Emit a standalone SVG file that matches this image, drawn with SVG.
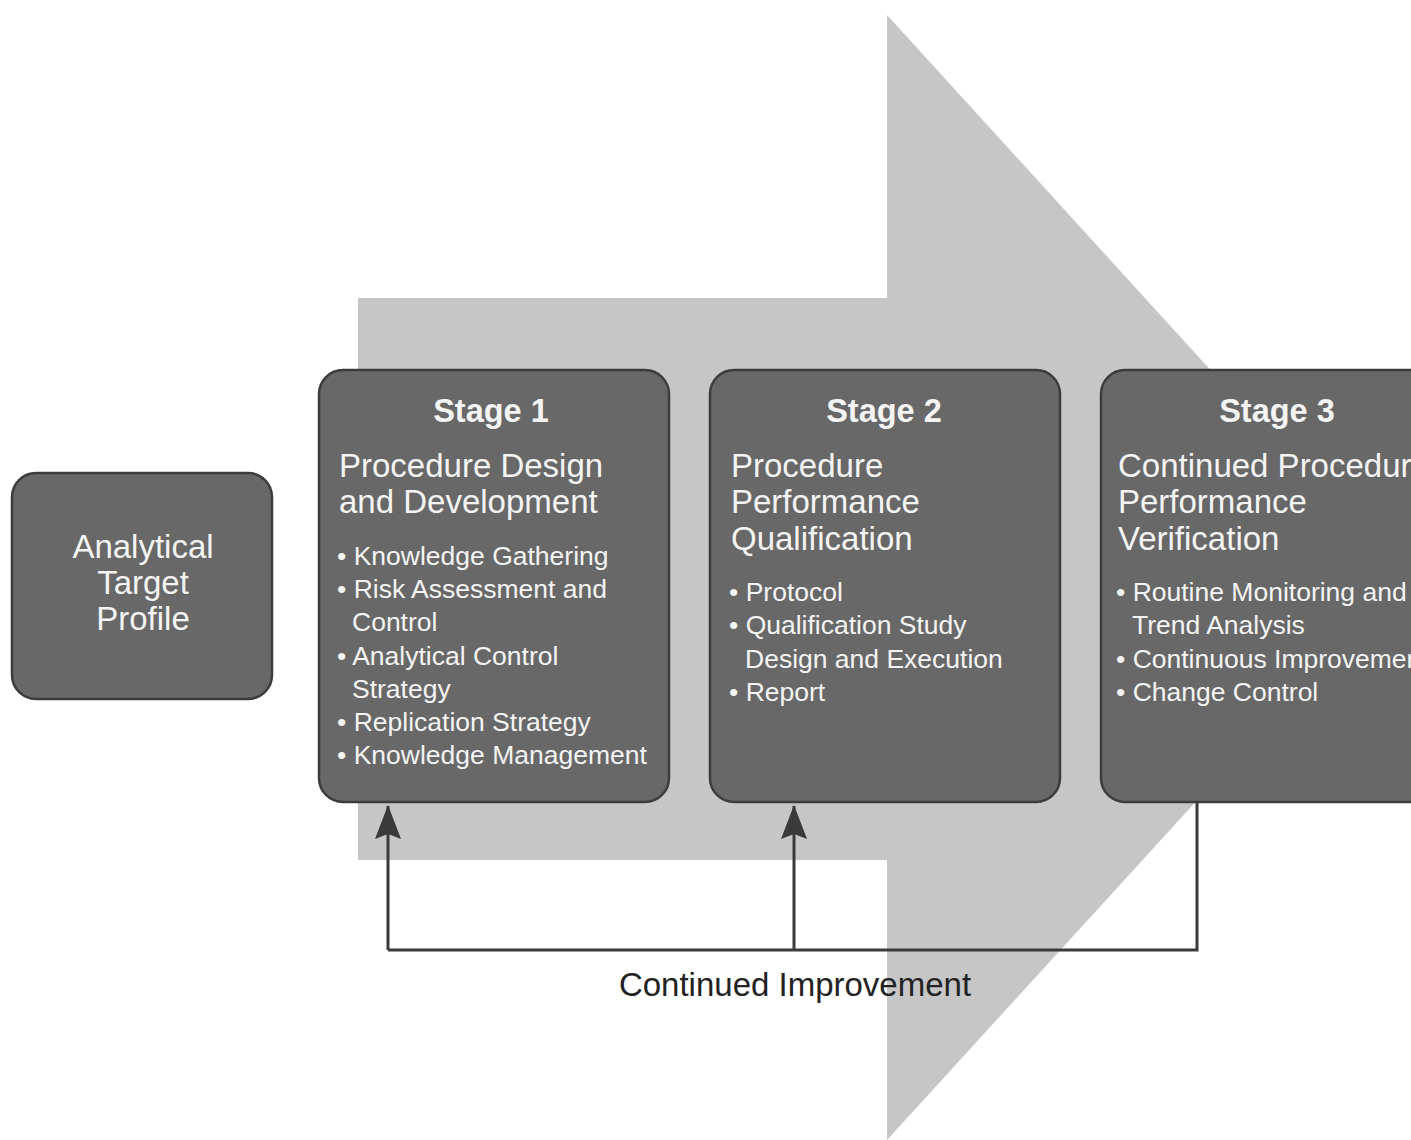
<svg xmlns="http://www.w3.org/2000/svg" width="1411" height="1140" viewBox="0 0 1411 1140">
<style>
.box{fill:#686868;stroke:#3c3c3c;stroke-width:2.5}
.t{font-family:"Liberation Sans",Arial,sans-serif;fill:#f4f4f4}
.stage{font-size:32.5px;font-weight:bold;text-anchor:middle}
.title{font-size:33px}
.bul{font-size:26.5px}
.atp{font-size:33px;text-anchor:middle}
.conn{fill:none;stroke:#3a3a3a;stroke-width:3}
.lbl{font-family:"Liberation Sans",Arial,sans-serif;font-size:33px;fill:#222;text-anchor:middle}
</style>
<defs>
<marker id="ah" viewBox="0 0 34 26" refX="33" refY="13" markerWidth="34" markerHeight="26" markerUnits="userSpaceOnUse" orient="auto">
<path d="M34,13 L0,0 L5,13 L0,26 Z" fill="#3a3a3a"/>
</marker>
</defs>
<rect width="1411" height="1140" fill="#ffffff"/>
<polygon id="bigarrow" points="358,298 887,298 887,15 1400,578 887,1140 887,860 358,860" fill="#c6c6c6"/>
<g id="connectors">
<path class="conn" d="M388,950 H1197 V802"/>
<path class="conn" d="M388,950 V806" marker-end="url(#ah)"/>
<path class="conn" d="M794,950 V806" marker-end="url(#ah)"/>
<text class="lbl" x="795" y="996">Continued Improvement</text>
</g>
<g id="atp">
<rect class="box" x="12" y="473" width="260" height="226" rx="24"/>
<text class="t atp" x="143" y="558">Analytical</text>
<text class="t atp" x="143" y="594">Target</text>
<text class="t atp" x="143" y="630">Profile</text>
</g>
<g id="stage1">
<rect class="box" x="319" y="370" width="350" height="432" rx="24"/>
<text class="t stage" x="491" y="422">Stage 1</text>
<text class="t title" x="339" y="477">Procedure Design</text>
<text class="t title" x="339" y="513">and Development</text>
<g class="t bul">
<text x="337" y="565">• Knowledge Gathering</text>
<text x="337" y="598">• Risk Assessment and</text>
<text x="352" y="631">Control</text>
<text x="337" y="665">• Analytical Control</text>
<text x="352" y="698">Strategy</text>
<text x="337" y="731">• Replication Strategy</text>
<text x="337" y="764">• Knowledge Management</text>
</g>
</g>
<g id="stage2">
<rect class="box" x="710" y="370" width="350" height="432" rx="24"/>
<text class="t stage" x="884" y="422">Stage 2</text>
<text class="t title" x="731" y="477">Procedure</text>
<text class="t title" x="731" y="513">Performance</text>
<text class="t title" x="731" y="550">Qualification</text>
<g class="t bul">
<text x="729" y="601">• Protocol</text>
<text x="729" y="634">• Qualification Study</text>
<text x="745" y="668">Design and Execution</text>
<text x="729" y="701">• Report</text>
</g>
</g>
<g id="stage3">
<rect class="box" x="1101" y="370" width="350" height="432" rx="24"/>
<text class="t stage" x="1277" y="422">Stage 3</text>
<text class="t title" x="1118" y="477">Continued Procedure</text>
<text class="t title" x="1118" y="513">Performance</text>
<text class="t title" x="1118" y="550">Verification</text>
<g class="t bul">
<text x="1116" y="601">• Routine Monitoring and</text>
<text x="1132" y="634">Trend Analysis</text>
<text x="1116" y="668">• Continuous Improvement</text>
<text x="1116" y="701">• Change Control</text>
</g>
</g>
</svg>
